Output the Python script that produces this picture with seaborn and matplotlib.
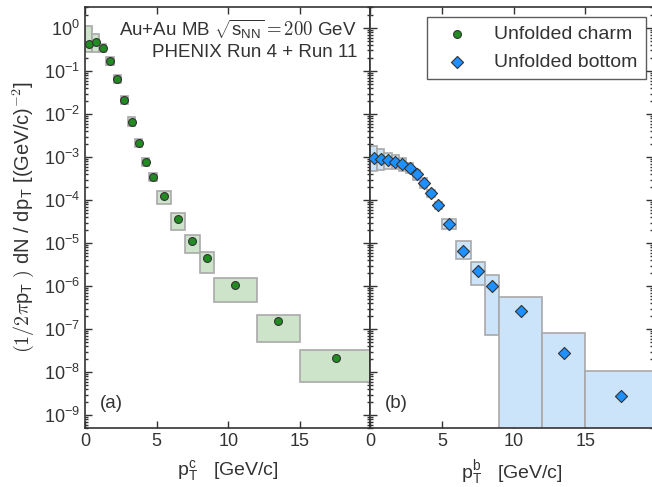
import matplotlib
matplotlib.use("Agg")
import matplotlib.pyplot as plt
from matplotlib.ticker import LogLocator, NullFormatter, MultipleLocator, FixedLocator
import numpy as np
import pandas as pd
import seaborn as sns

# bins (GeV/c), shared by charm and bottom
bin_lo = [0, 0.5, 1, 1.5, 2, 2.5, 3, 3.5, 4, 4.5, 5, 6, 7, 8, 9, 12, 15]
bin_hi = [0.5, 1, 1.5, 2, 2.5, 3, 3.5, 4, 4.5, 5, 6, 7, 8, 9, 12, 15, 20]
pt = [0.25, 0.75, 1.25, 1.75, 2.25, 2.75, 3.25, 3.75, 4.25, 4.75,
      5.5, 6.5, 7.5, 8.5, 10.5, 13.5, 17.5]

charm_y = [0.42, 0.47, 0.34, 0.17, 0.065, 0.021, 0.0066, 0.0021, 7.6e-4, 3.4e-4,
           1.24e-4, 3.6e-5, 1.13e-5, 4.4e-6, 1.05e-6, 1.5e-7, 2.15e-8]
charm_sys_hi = [1.12, 0.71, 0.43, 0.21, 0.08, 0.026, 0.0083, 0.0026, 9.5e-4, 4.3e-4,
                1.66e-4, 4.9e-5, 1.55e-5, 6.2e-6, 1.5e-6, 2.1e-7, 3.2e-8]
charm_sys_lo = [0.27, 0.27, 0.27, 0.135, 0.052, 0.017, 0.0053, 0.0017, 6.1e-4, 2.7e-4,
                8.1e-5, 2.0e-5, 6.0e-6, 2.0e-6, 4.2e-7, 5.1e-8, 5.8e-9]

bottom_y = [9.6e-4, 8.9e-4, 8.5e-4, 7.8e-4, 6.9e-4, 5.5e-4, 4.0e-4, 2.5e-4, 1.45e-4, 7.6e-5,
            2.7e-5, 6.4e-6, 2.2e-6, 1.0e-6, 2.6e-7, 2.8e-8, 2.75e-9]
bottom_sys_hi = [1.8e-3, 1.55e-3, 1.23e-3, 1.12e-3, 9.3e-4, 7.1e-4, 5.0e-4, 3.2e-4, 1.7e-4, 9e-5,
                 3.7e-5, 1.12e-5, 3.6e-6, 1.8e-6, 5.6e-7, 7.9e-8, 1.05e-8]
bottom_sys_lo = [4.8e-4, 5.0e-4, 5.2e-4, 5.2e-4, 4.8e-4, 4.2e-4, 2.95e-4, 1.86e-4, 1.2e-4, 6.3e-5,
                 2.1e-5, 4.3e-6, 1.05e-6, 7.1e-8, 1e-10, 1e-10, 1e-10]

y_decades = [1e-9, 1e-8, 1e-7, 1e-6, 1e-5, 1e-4, 1e-3, 1e-2, 1e-1, 1e0]

sns.set_theme(style="ticks")
plt.rcParams['font.family'] = ['Liberation Sans', 'DejaVu Sans']
plt.rcParams['mathtext.fontset'] = 'cm'
plt.rcParams['axes.edgecolor'] = '#333333'
plt.rcParams['text.color'] = '#333333'
plt.rcParams['xtick.color'] = '#333333'
plt.rcParams['ytick.color'] = '#333333'
plt.rcParams['axes.labelcolor'] = '#333333'

fig = plt.figure(figsize=(6.52, 4.87), dpi=100)
W, H = 652.0, 487.0
ax1 = fig.add_axes([85 / W, (H - 428) / H, 285 / W, 421 / H])
ax2 = fig.add_axes([370 / W, (H - 428) / H, 283 / W, 421 / H], sharey=ax1)

df_c = pd.DataFrame({'pt': pt, 'y': charm_y})
df_b = pd.DataFrame({'pt': pt, 'y': bottom_y})


def draw_boxes(ax, lo, hi, color):
    lo = np.array(lo)
    hi = np.array(hi)
    ax.bar(bin_lo, hi - lo, width=np.array(bin_hi) - np.array(bin_lo), bottom=lo,
           align='edge', color=color, edgecolor='#a9a9a9', linewidth=1.2, zorder=1)


draw_boxes(ax1, charm_sys_lo, charm_sys_hi, '#cde4cb')
draw_boxes(ax2, bottom_sys_lo, bottom_sys_hi, '#cce4fa')

sns.scatterplot(data=df_c, x='pt', y='y', ax=ax1, marker='o', s=32, color='#228b22',
                edgecolor='#333333', linewidth=0.8, zorder=3, label='Unfolded charm')
sns.scatterplot(data=df_b, x='pt', y='y', ax=ax2, marker='D', s=38, color='#1e90ff',
                edgecolor='#333333', linewidth=0.8, zorder=3, label='Unfolded bottom')

for ax in (ax1, ax2):
    ax.set_yscale('log')
    ax.set_ylim(5e-10, 3.08)
    ax.yaxis.set_major_locator(FixedLocator(y_decades))
    ax.yaxis.set_minor_locator(LogLocator(base=10, subs=np.arange(2, 10), numticks=100))
    ax.yaxis.set_minor_formatter(NullFormatter())
    ax.xaxis.set_major_locator(MultipleLocator(5))
    ax.tick_params(which='both', direction='in', top=True, right=True, width=1)
    ax.tick_params(which='major', length=5, labelsize=13)
    ax.tick_params(which='minor', length=2.5)
    for sp in ax.spines.values():
        sp.set_linewidth(1.2)
    ax.get_legend().remove()

ax1.set_xlim(0, 19.9)
ax2.set_xlim(0, 19.7)
ax2.tick_params(labelleft=False)

ax1.set_xlabel(r"$\mathdefault{p_{T}^{c}}$   [GeV/c]", fontsize=14, labelpad=6)
ax2.set_xlabel(r"$\mathdefault{p_{T}^{b}}$   [GeV/c]", fontsize=14, labelpad=6)
ax2.set_ylabel('')
ax1.set_ylabel(r"$(1/2\pi\mathdefault{p_{T}}\ )$ dN / dp$_\mathdefault{T}$ [(GeV/c)$^{-2}$]",
               fontsize=14.5, labelpad=6)

fig.text(357 / W, 1 - 36 / H, r"Au+Au MB $\sqrt{\mathdefault{s_{NN}}}=200$ GeV",
         ha='right', va='baseline', fontsize=13.5)
fig.text(357 / W, 1 - 57 / H, "PHENIX Run 4 + Run 11",
         ha='right', va='baseline', fontsize=13.5)
fig.text(100 / W, 1 - 408 / H, "(a)", ha='left', va='baseline', fontsize=13.5)
fig.text(385 / W, 1 - 408 / H, "(b)", ha='left', va='baseline', fontsize=13.5)

h1, l1 = ax1.get_legend_handles_labels()
h2, l2 = ax2.get_legend_handles_labels()
leg = ax2.legend(h1 + h2, l1 + l2, loc='upper right',
                 bbox_to_anchor=((646 - 370) / 283, 1 - 10 / 421), borderaxespad=0,
                 fontsize=14, frameon=True, fancybox=False, edgecolor='#333333',
                 handletextpad=0.8, borderpad=0.45, labelspacing=0.5, handlelength=2.2)
leg.get_frame().set_linewidth(1.0)

fig.savefig('out.png', dpi=100)
